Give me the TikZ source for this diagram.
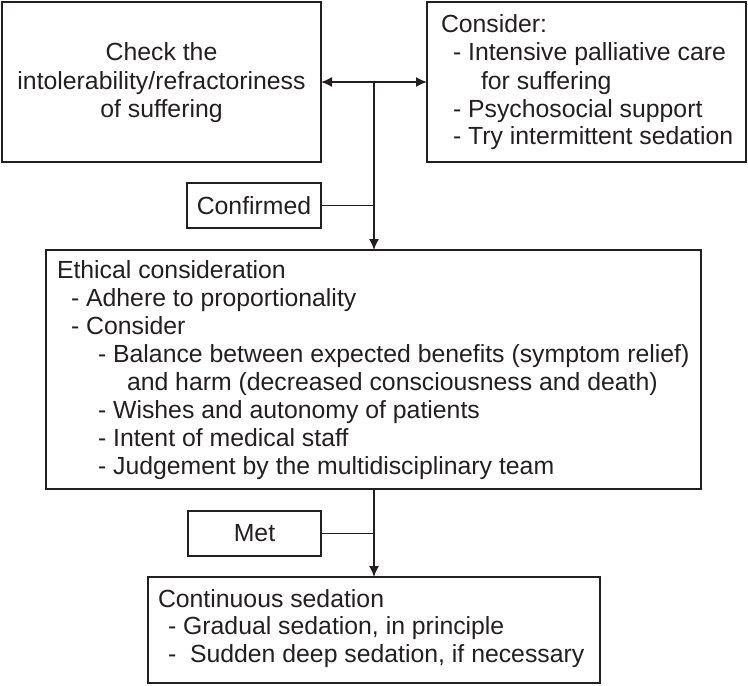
\documentclass[tikz,border=0pt]{standalone}
\usepackage{fontspec}
\setmainfont{Liberation Sans}
\usetikzlibrary{arrows.meta}
\definecolor{ink}{HTML}{231F20}
\newcommand{\fsz}{\fontsize{24.8}{28}\selectfont}
\tikzset{
  box/.style={draw=ink, line width=1.5pt, inner sep=0pt, outer sep=0pt, anchor=north west, font=\fsz, text=ink},
  txt/.style={anchor=base west, inner sep=0pt, outer sep=0pt, font=\fsz, text=ink},
  ctxt/.style={anchor=base, inner sep=0pt, outer sep=0pt, font=\fsz, text=ink},
  conn/.style={draw=ink, line width=1.5pt},
  tip/.style={-{Latex[length=11pt,width=10pt]}},
  dtip/.style={{Latex[length=11pt,width=10pt]}-{Latex[length=11pt,width=10pt]}}
}
\begin{document}
\begin{tikzpicture}[x=1pt,y=-1pt]
\useasboundingbox (0,0) rectangle (748,686);
% boxes
\node[box, minimum width=319pt, minimum height=160pt] (check) at (2,2) {};
\node[box, minimum width=319pt, minimum height=160pt] (cons) at (427,2) {};
\node[box, minimum width=134pt, minimum height=45pt] (conf) at (187,183) {Confirmed};
\node[box, minimum width=655pt, minimum height=239pt] (eth) at (46,250) {};
\node[box, minimum width=133pt, minimum height=45pt] (met) at (188,511) {Met};
\node[box, minimum width=452pt, minimum height=106pt] (cont) at (148,577) {};
% check text
\node[ctxt] (c1) at (161.5,60) {Check the};
\node[ctxt] (c2) at (161.5,89) {intolerability/refractoriness};
\node[ctxt] (c3) at (161.5,117) {of suffering};
% consider text
\node[txt] (k1) at (441,32) {Consider:};
\node[txt] (k2) at (453,60) {- Intensive palliative care};
\node[txt] (k3) at (481,89) {for suffering};
\node[txt] (k4) at (453,117) {- Psychosocial support};
\node[txt] (k5) at (453,144) {- Try intermittent sedation};
% ethical text
\node[txt] (e1) at (57,278) {Ethical consideration};
\node[txt] (e2) at (71,306) {- Adhere to proportionality};
\node[txt] (e3) at (71,334) {- Consider};
\node[txt] (e4) at (98,362) {- Balance between expected benefits (symptom relief)};
\node[txt] (e5) at (127,390) {and harm (decreased consciousness and death)};
\node[txt] (e6) at (98,418) {- Wishes and autonomy of patients};
\node[txt] (e7) at (98,446) {- Intent of medical staff};
\node[txt] (e8) at (98,474) {- Judgement by the multidisciplinary team};
% continuous text
\node[txt] (s1) at (158,607) {Continuous sedation};
\node[txt] (s2) at (168,634) {- Gradual sedation, in principle};
\node[txt] (s3) at (168,662) {-\ \ Sudden deep sedation, if necessary};
% connectors
\coordinate (j) at (374,82);
\draw[conn, dtip] (check.east |- j) -- (cons.west |- j);
\draw[conn, tip] (j) -- (eth.north -| j);
\draw[conn] (conf.east) -- (conf.east -| j);
\draw[conn, tip] (eth.south -| j) -- (cont.north -| j);
\draw[conn] (met.east) -- (met.east -| j);
\end{tikzpicture}
\end{document}
